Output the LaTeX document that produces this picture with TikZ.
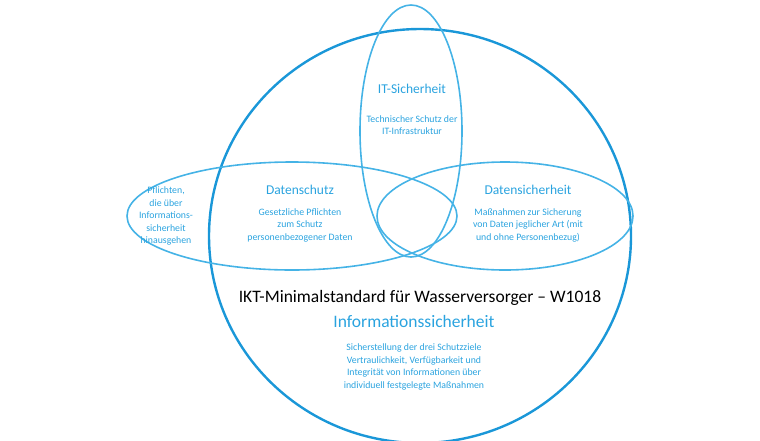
\documentclass[tikz,border=0pt]{standalone}
\usepackage{fontspec}
\setmainfont{Carlito}
\definecolor{dk}{HTML}{1A97D8}
\definecolor{lt}{HTML}{45B3E6}
\definecolor{tx}{HTML}{2AA3DF}
\begin{document}
\begin{tikzpicture}[x=1pt,y=-1pt,
 ring/.style={draw=lt,line width=1.6pt},
 ttl/.style={text=tx,font=\fontsize{13.5}{16}\selectfont,align=center},
 sub/.style={text=tx,font=\fontsize{9.8}{12.5}\selectfont,align=center}]
\useasboundingbox (0,0) rectangle (760,440);
\draw[draw=dk,line width=2.4pt] (420,236) ellipse (211 and 207);
\draw[ring] (411,131) ellipse (51 and 126);
\draw[ring] (292,216) ellipse (165 and 54);
\draw[ring] (505,216) ellipse (128 and 54);
\node[ttl] (it) at (412,89) {IT-Sicherheit};
\node[sub] (itt) at (412,125) {Technischer Schutz der\\IT-Infrastruktur};
\node[ttl] (ds) at (300,190) {Datenschutz};
\node[sub] (dst) at (300,225) {Gesetzliche Pflichten\\zum Schutz\\personenbezogener Daten};
\node[ttl] (dsi) at (528,190) {Datensicherheit};
\node[sub] (dsit) at (528,225) {Maßnahmen zur Sicherung\\von Daten jeglicher Art (mit\\und ohne Personenbezug)};
\node[sub] (pf) at (166,216) {Pflichten,\\die über\\Informations-\\sicherheit\\hinausgehen};
\node[font=\fontsize{17.5}{20}\selectfont] (ikt) at (420,298) {IKT-Minimalstandard für Wasserversorger – W1018};
\node[ttl,font=\fontsize{17.5}{20}\selectfont] (is) at (414,321) {Informationssicherheit};
\node[sub] (ist) at (414,367) {Sicherstellung der drei Schutzziele\\Vertraulichkeit, Verfügbarkeit und\\Integrität von Informationen über\\individuell festgelegte Maßnahmen};
\end{tikzpicture}
\end{document}
